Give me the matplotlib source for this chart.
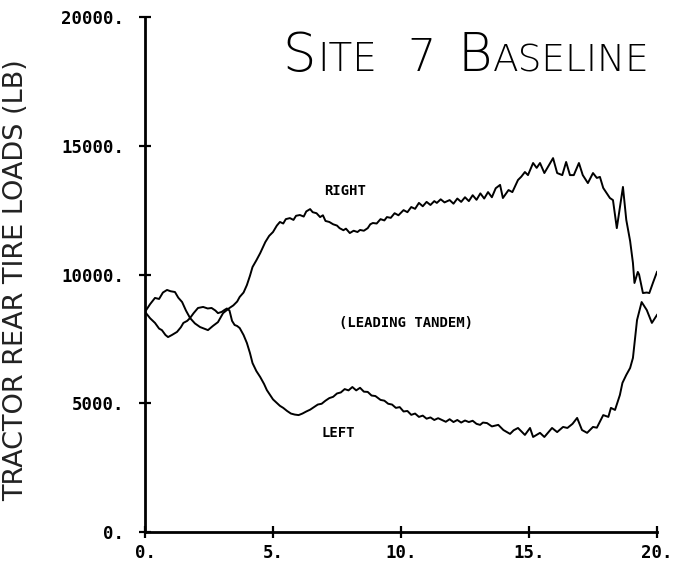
"""Site 7 baseline: tractor rear tire loads, leading tandem, right vs left."""

import matplotlib
matplotlib.use("Agg")
import matplotlib.pyplot as plt
from matplotlib.font_manager import FontProperties

# ---- DATA -----------------------------------------------------------------
right_t = [0.00, 0.20, 0.39, 0.55, 0.70, 0.86, 1.00, 1.17, 1.30, 1.45, 1.60, 1.76,
           1.95, 2.15, 2.30, 2.46, 2.65, 2.85, 3.05, 3.20, 3.30, 3.45, 3.60, 3.70,
           3.85, 3.98, 4.10, 4.20, 4.35, 4.50, 4.60, 4.70, 4.85, 5.00, 5.15, 5.27,
           5.40, 5.50, 5.66, 5.80, 5.90, 6.05, 6.20, 6.30, 6.45, 6.55, 6.70, 6.84,
           6.95, 7.05, 7.20, 7.35, 7.50, 7.60, 7.75, 7.85, 8.00, 8.15, 8.30, 8.40,
           8.55, 8.70, 8.80, 8.90, 9.05, 9.20, 9.35, 9.45, 9.60, 9.75, 9.90, 10.10,
           10.25, 10.40, 10.55, 10.70, 10.85, 11.00, 11.15, 11.30, 11.40, 11.55,
           11.70, 11.90, 12.05, 12.20, 12.35, 12.50, 12.65, 12.80, 12.95, 13.10,
           13.25, 13.40, 13.55, 13.70, 13.87, 13.98, 14.20, 14.35, 14.57, 14.70,
           14.84, 14.96, 15.16, 15.30, 15.43, 15.60, 15.94, 16.10, 16.30, 16.45,
           16.60, 16.75, 16.95, 17.10, 17.30, 17.50, 17.65, 17.77, 17.90, 18.16,
           18.28, 18.43, 18.67, 18.80, 18.95, 19.06, 19.12, 19.25, 19.30, 19.45,
           19.60, 19.70, 19.85, 20.00]
right_load = [8550, 8850, 9090, 9050, 9300, 9400, 9350, 9320, 9100, 8930, 8600, 8310,
              8100, 7960, 7900, 7840, 8000, 8150, 8500, 8620, 8700, 8800, 8950, 9130,
              9300, 9590, 9950, 10290, 10550, 10830, 11050, 11260, 11500, 11650, 11900, 12040,
              11980, 12150, 12190, 12120, 12280, 12310, 12250, 12450, 12540, 12420, 12380, 12230,
              12300, 12080, 12040, 11950, 11900, 11800, 11720, 11780, 11610, 11700, 11650, 11730,
              11700, 11800, 11950, 12000, 11980, 12150, 12100, 12230, 12200, 12380, 12300, 12500,
              12420, 12620, 12550, 12780, 12650, 12820, 12700, 12850, 12780, 12920,
              12800, 12890, 12750, 12950, 12820, 13000, 12850, 13080, 12900, 13150,
              12950, 13200, 13000, 13350, 13480, 12970, 13280, 13200, 13670, 13800,
              13980, 13860, 14330, 14140, 14330, 13940, 14520, 13940, 13860, 14370,
              13860, 13860, 14330, 13860, 13550, 13940, 13750, 13790, 13360, 12970,
              12890, 11800, 13400, 12120, 11300, 10450, 9670, 10100, 10000, 9280,
              9300, 9280, 9700, 10100]

left_t = [0.00, 0.20, 0.39, 0.55, 0.66, 0.80, 0.90, 1.05, 1.25, 1.40, 1.50, 1.65,
          1.76, 1.90, 2.07, 2.27, 2.45, 2.60, 2.75, 2.85, 3.00, 3.10, 3.20, 3.30,
          3.40, 3.50, 3.60, 3.70, 3.85, 3.98, 4.10, 4.20, 4.35, 4.50, 4.65, 4.76,
          4.90, 5.00, 5.15, 5.27, 5.40, 5.55, 5.70, 5.85, 6.00, 6.15, 6.30, 6.45,
          6.60, 6.75, 6.90, 7.05, 7.20, 7.35, 7.50, 7.65, 7.80, 7.95, 8.10, 8.25,
          8.40, 8.55, 8.70, 8.85, 9.00, 9.20, 9.35, 9.50, 9.65, 9.80, 9.95, 10.10,
          10.25, 10.40, 10.55, 10.70, 10.85, 11.00, 11.15, 11.30, 11.45, 11.60,
          11.75, 11.90, 12.05, 12.20, 12.35, 12.50, 12.65, 12.80, 12.95, 13.09,
          13.20, 13.36, 13.55, 13.80, 14.00, 14.26, 14.40, 14.57, 14.84, 15.04,
          15.16, 15.43, 15.60, 15.90, 16.10, 16.33, 16.50, 16.70, 16.88, 17.07,
          17.27, 17.50, 17.65, 17.90, 18.10, 18.20, 18.36, 18.55, 18.65, 18.80,
          18.95, 19.06, 19.15, 19.22, 19.40, 19.60, 19.80, 20.00]
left_load = [8550, 8300, 8120, 7900, 7840, 7650, 7570, 7650, 7770, 7950, 8120, 8200,
             8310, 8500, 8700, 8740, 8680, 8700, 8600, 8500, 8550, 8620, 8680, 8600,
             8200, 8040, 8000, 7920, 7650, 7340, 6950, 6560, 6250, 6020, 5750, 5510,
             5300, 5150, 5010, 4900, 4820, 4700, 4600, 4560, 4540, 4600, 4680, 4750,
             4850, 4950, 4980, 5100, 5200, 5250, 5380, 5420, 5550, 5500, 5630, 5500,
             5600, 5450, 5440, 5300, 5280, 5130, 5100, 4980, 4950, 4820, 4850, 4680,
             4700, 4550, 4600, 4470, 4520, 4400, 4450, 4350, 4420, 4350,
             4280, 4380, 4270, 4350, 4250, 4330, 4270, 4320, 4200, 4160,
             4250, 4230, 4100, 4160, 3960, 3810, 3950, 4040, 3770, 4040,
             3690, 3850, 3690, 4040, 3880, 4080, 4040, 4200, 4430, 3960,
             3850, 4080, 4050, 4540, 4470, 4820, 4740, 5320, 5790, 6100,
             6370, 6760, 7600, 8230, 8930, 8620, 8120, 8430]

x_ticks = [0, 5, 10, 15, 20]
y_ticks = [0, 5000, 10000, 15000, 20000]
x_tick_labels = ["0.", "5.", "10.", "15.", "20."]
y_tick_labels = ["0.", "5000.", "10000.", "15000.", "20000."]

# curve annotations: (text, t, load)
annotations = [("RIGHT", 7.8, 13250),
               ("(LEADING TANDEM)", 10.2, 8100),
               ("LEFT", 7.55, 3850)]

# ---- PLOT ----------------------------------------------------------------
W, H = 681, 568
fig = plt.figure(figsize=(W / 100, H / 100), dpi=100)
ax = fig.add_axes([145 / W, 1 - 532 / H, 512 / W, 515 / H])

ax.plot(right_t, right_load, color="black", lw=1.4)
ax.plot(left_t, left_load, color="black", lw=1.4)

ax.set_xlim(0, 20)
ax.set_ylim(0, 20000)
ax.set_xticks(x_ticks)
ax.set_xticklabels(x_tick_labels)
ax.set_yticks(y_ticks)
ax.set_yticklabels(y_tick_labels)

mono = dict(family="DejaVu Sans Mono", weight="bold")
for lab in ax.get_xticklabels() + ax.get_yticklabels():
    lab.set_fontproperties(FontProperties(size=12.5, **mono))
ax.tick_params(direction="inout", length=8, width=1.6, color="black")
ax.tick_params(axis="x", pad=5)
ax.tick_params(axis="y", pad=11)

for side in ("top", "right"):
    ax.spines[side].set_visible(False)
for side in ("left", "bottom"):
    ax.spines[side].set_linewidth(2.0)

for text, t, v in annotations:
    ax.text(t, v, text, ha="center", va="center", fontsize=10, **mono)

# y label
fig.text(16 / W, 1 - 280 / H, "TRACTOR REAR TIRE LOADS (LB)", rotation=90,
         ha="center", va="center", fontsize=19.5, family="DejaVu Sans",
         color="#222222")

# handwritten-style title, pieces of mixed size (small caps look);
# each piece is placed right after the previous one plus a gap (pixels)
title_pieces = [("S", 38, 2), ("ITE", 28, 30), ("7", 32, 22),
                ("B", 38, 1), ("ASELINE", 27, 0)]
renderer = fig.canvas.get_renderer()
x_px = 282
for text, size, gap in title_pieces:
    t = fig.text(x_px / W, 1 - 71 / H, text, ha="left", va="baseline",
                 fontsize=size, family="DejaVu Sans", weight="light")
    x_px += t.get_window_extent(renderer).width + gap

fig.savefig("out.png", dpi=100)
